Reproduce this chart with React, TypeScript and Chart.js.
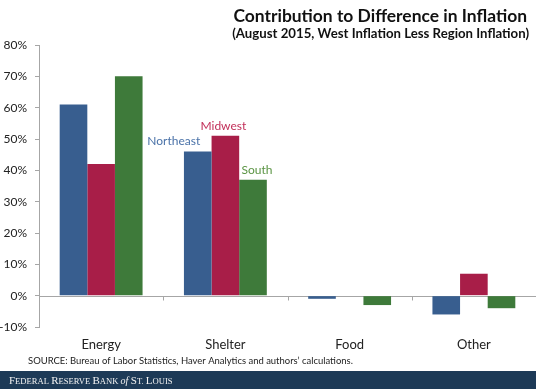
import React, { useEffect, useRef } from "react";
import { Chart, registerables } from "chart.js";

Chart.register(...registerables);

const categories = ["Energy", "Shelter", "Food", "Other"];
const seriesNames = ["Northeast", "Midwest", "South"];
const northeast = [61, 46, -1, -6];
const midwest = [42, 51, 0, 7];
const south = [70, 37, -3, -4];
const yTicksMin = -10;
const yTicksMax = 80;
const yTickStep = 10;
const titleText = "Contribution to Difference in Inflation";
const subtitleText = "(August 2015, West Inflation Less Region Inflation)";
const sourceText = "SOURCE: Bureau of Labor Statistics, Haver Analytics and authors\u2019 calculations.";

const barColors = ["#385e8f", "#a81e48", "#3e7a3a"];
const labelColors = ["#4a72a8", "#c2305a", "#5a9443"];
const FONT = "Lato, 'Open Sans', sans-serif";

function fitFont(ctx: CanvasRenderingContext2D, text: string, weight: string, target: number, base: number) {
  ctx.font = `${weight} ${base}px ${FONT}`;
  const w = ctx.measureText(text).width;
  const size = Math.min(base * 1.3, (base * target) / w);
  return `${weight} ${size.toFixed(2)}px ${FONT}`;
}

const decorPlugin = {
  id: "decor",
  beforeDatasetsDraw(chart: any) {
    const ctx = chart.ctx as CanvasRenderingContext2D;
    const y = chart.scales.y;
    const x = chart.scales.x;
    const y0 = Math.round(y.getPixelForValue(0)) + 0.5;
    ctx.save();
    ctx.strokeStyle = "#a6a6a6";
    ctx.lineWidth = 1;
    ctx.beginPath();
    ctx.moveTo(chart.chartArea.left, y0);
    ctx.lineTo(chart.chartArea.right, y0);
    const n = categories.length;
    for (let i = 1; i < n; i++) {
      const px = Math.round(x.left + (i * (x.right - x.left)) / n) + 0.5;
      ctx.moveTo(px, y0);
      ctx.lineTo(px, y0 + 4);
    }
    ctx.stroke();
    ctx.restore();
  },
  afterDraw(chart: any) {
    const ctx = chart.ctx as CanvasRenderingContext2D;
    const W = chart.width;
    const H = chart.height;
    ctx.save();
    // Title
    ctx.fillStyle = "#111111";
    ctx.textAlign = "right";
    ctx.textBaseline = "middle";
    ctx.font = fitFont(ctx, titleText, "bold", 294, 17);
    ctx.fillText(titleText, 527, 16);
    ctx.font = fitFont(ctx, subtitleText, "bold", 297, 12);
    ctx.fillText(subtitleText, 529, 34);

    // Series labels above Shelter bars
    const offsets = [-24, -2, 4];
    ctx.textAlign = "center";
    ctx.textBaseline = "middle";
    ctx.font = `12px ${FONT}`;
    seriesNames.forEach((name, i) => {
      const el = chart.getDatasetMeta(i).data[1];
      if (!el) return;
      ctx.fillStyle = labelColors[i];
      ctx.fillText(name, el.x + offsets[i], el.y - 10);
    });

    // Source
    ctx.textAlign = "left";
    ctx.fillStyle = "#222222";
    ctx.font = fitFont(ctx, sourceText, "normal", 325, 9.5);
    ctx.fillText(sourceText, 28, 361);

    // Banner
    ctx.fillStyle = "#1d3a57";
    ctx.fillRect(0, 371, W, H - 371);
    const segs: [string, string][] = [
      ["F", "b"], ["EDERAL ", "s"], ["R", "b"], ["ESERVE ", "s"], ["B", "b"], ["ANK ", "s"],
      ["of ", "i"], ["S", "b"], ["T. ", "s"], ["L", "b"], ["OUIS", "s"],
    ];
    let cx = 9;
    const by = 384;
    ctx.fillStyle = "#f2f2f2";
    ctx.textBaseline = "alphabetic";
    for (const [t, k] of segs) {
      ctx.font = k === "b" ? "11px 'Liberation Serif', serif" : k === "s" ? "8.6px 'Liberation Serif', serif" : "italic 10px 'Liberation Serif', serif";
      ctx.fillText(t, cx, by);
      cx += ctx.measureText(t).width;
    }
    ctx.restore();
  },
};

export default function App() {
  const ref = useRef<HTMLCanvasElement | null>(null);
  useEffect(() => {
    if (!ref.current) return;
    const data = [northeast, midwest, south];
    const chart = new Chart(ref.current, {
      type: "bar",
      data: {
        labels: categories,
        datasets: seriesNames.map((name, i) => ({
          label: name,
          data: data[i],
          backgroundColor: barColors[i],
          borderWidth: 0,
          categoryPercentage: 0.667,
          barPercentage: 1.0,
        })),
      },
      options: {
        animation: false,
        responsive: false,
        devicePixelRatio: 1,
        layout: { padding: { top: 45, left: 0, right: 0, bottom: 34 } },
        plugins: {
          legend: { display: false },
          tooltip: { enabled: false },
          title: { display: false },
        },
        scales: {
          x: {
            grid: { display: false, drawOnChartArea: false, drawTicks: false },
            border: { display: false },
            ticks: {
              color: "#222222",
              font: { family: FONT, size: 13 },
              padding: 10,
              maxRotation: 0,
            },
            afterFit(scale: any) {
              scale.height = 28;
            },
          },
          y: {
            min: yTicksMin,
            max: yTicksMax,
            ticks: {
              stepSize: yTickStep,
              color: "#222222",
              font: { family: FONT, size: 12 },
              padding: 8,
              callback: (v: any) => `${v}%`,
            },
            grid: { drawOnChartArea: false, drawTicks: true, tickLength: 4, color: "#a6a6a6" },
            border: { display: true, color: "#a6a6a6" },
            afterFit(scale: any) {
              scale.width = 39;
            },
          },
        },
      },
      plugins: [decorPlugin],
    });
    return () => chart.destroy();
  }, []);
  return (
    <div style={{ position: "fixed", left: 0, top: 0, width: 536, height: 389, background: "#ffffff" }}>
      <canvas ref={ref} width={536} height={389} style={{ display: "block" }} />
    </div>
  );
}
